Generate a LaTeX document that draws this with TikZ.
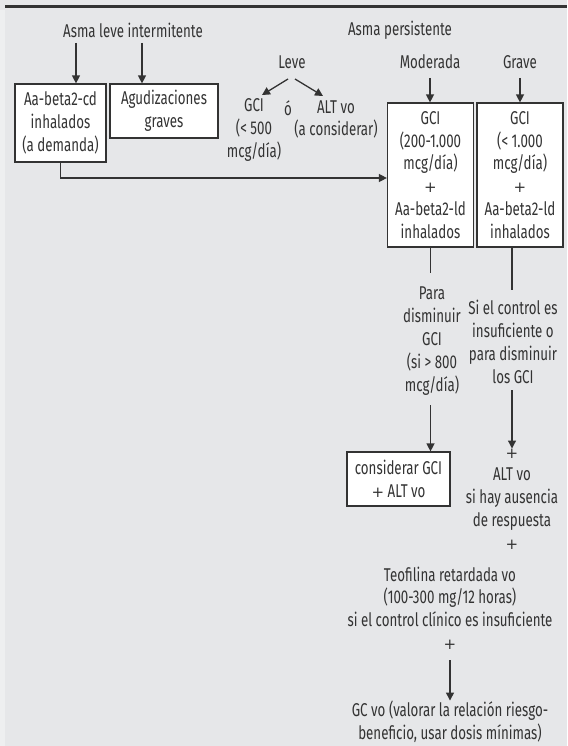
\documentclass[tikz,border=0pt]{standalone}
\usepackage{fontspec}
\setmainfont{Fira Sans}[FakeStretch=0.72]
\newfontfamily\plusfont{DejaVu Sans}
\newcommand{\pls}{{\plusfont\fontsize{15}{22.8}\selectfont +}}
\usetikzlibrary{arrows.meta,calc}
\definecolor{bg}{HTML}{E6E7E9}
\definecolor{bgl}{HTML}{EEEFF0}
\definecolor{ink}{HTML}{333333}
\begin{document}
\begin{tikzpicture}[x=1pt,y=-1pt,
  every node/.style={font=\fontsize{18.5}{22.8}\selectfont, text=ink, align=center, inner sep=0pt},
  box/.style={draw=ink, line width=1.2pt, fill=white},
  lin/.style={draw=ink, line width=1.3pt},
  arr/.style={lin, -{Triangle[length=8pt,width=8pt]}}]
\useasboundingbox (0,0) rectangle (567,746);
\fill[bg] (0,0) rectangle (567,746);
\fill[bgl] (0,10) rectangle (5,746);
\draw[ink, line width=3pt] (5,7) -- (567,7);

% titles
\node (intermit) at (133,30) {Asma leve intermitente};
\node (persist) at (400,30) {Asma persistente};
\node (leve) at (292,62) {Leve};
\node (moderada) at (430,62) {Moderada};
\node (grave) at (520,62) {Grave};

% boxes
\node[box, minimum width=91pt, minimum height=78pt] (box1) at (60.5,123) {Aa-beta2-cd\\inhalados\\(a demanda)};
\node[box, minimum width=108pt, minimum height=54pt] (box2) at (164,111) {Agudizaciones\\graves};
\node[box, minimum width=86pt, minimum height=144pt] (modbox) at (430.5,175) {GCI\\(200-1.000\\mcg/día)\\\pls\\Aa-beta2-ld\\inhalados};
\node[box, minimum width=86pt, minimum height=144pt] (gravebox) at (520,175) {GCI\\(< 1.000\\mcg/día)\\\pls\\Aa-beta2-ld\\inhalados};
\node[box, minimum width=103pt, minimum height=54pt] (consider) at (398.5,479) {considerar GCI\\\pls{} ALT vo};

% free texts
\node (gcileve) at (254,130) {GCI\\(< 500\\mcg/día)};
\node (o) at (288,108) {ó};
\node (altvo) at (336,119.5) {ALT vo\\(a considerar)};
\node (para) at (432,341) {Para\\disminuir\\GCI\\(si > 800\\mcg/día)};
\node (sicontrol) at (513,342) {Si el control es\\insuficiente o\\para disminuir\\los GCI};
\node (altresp) at (512,499) {\pls\\ALT vo\\si hay ausencia\\de respuesta\\\pls};
\node (teof) at (450,608) {Teofilina retardada vo\\(100-300 mg/12 horas)\\si el control clínico es insuficiente\\\pls};
\node (gcvo) at (450,721.5) {GC vo (valorar la relación riesgo-\\beneficio, usar dosis mínimas)};

% helper coordinates
\coordinate (xa) at (76,0);
\coordinate (xb) at (142,0);
\coordinate (ya) at (0,43);
\coordinate (yb) at (0,78);
\coordinate (yc) at (0,178);
\coordinate (yd) at (0,273);
\coordinate (ye) at (0,290);
\coordinate (yf) at (0,405);
\coordinate (yg) at (0,390);
\coordinate (yh) at (0,660);
\coordinate (xg) at (512,0);
\coordinate (ll0) at (288,79);
\coordinate (ll1) at (262,95);
\coordinate (lr0) at (295,79);
\coordinate (lr1) at (323,96);

% connectors
\draw[arr] (xa |- ya) -- (xa |- box1.north);
\draw[arr] (xb |- ya) -- (xb |- box2.north);
\draw[arr] (ll0) -- (ll1);
\draw[arr] (lr0) -- (lr1);
\draw[arr] (moderada.south |- yb) -- (moderada.south |- modbox.north);
\draw[arr] (grave.south |- yb) -- (grave.south |- gravebox.north);
\draw[arr] (box1.south) |- (modbox.west |- yc);
\draw[lin] (modbox.south) -- (modbox.south |- yd);
\draw[lin] (xg |- gravebox.south) -- (xg |- ye);
\draw[arr] (modbox.south |- yf) -- (modbox.south |- consider.north);
\draw[arr] (xg |- yg) -- (xg |- altresp.north);
\draw[arr] (teof.south |- yh) -- (teof.south |- gcvo.north);
\end{tikzpicture}
\end{document}
